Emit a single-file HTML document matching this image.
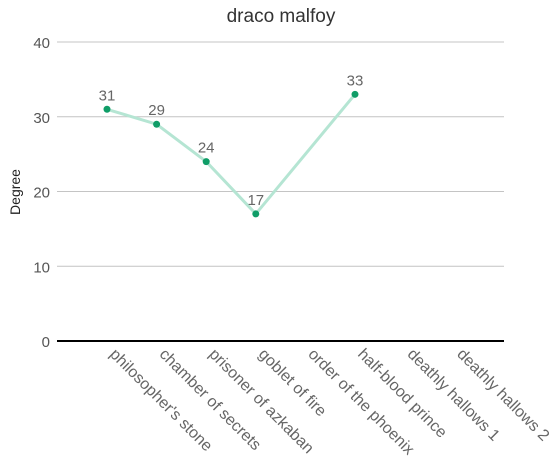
<!DOCTYPE html>
<html><head><meta charset="utf-8"><style>
body{margin:0;background:#fff;font-family:"Liberation Sans",sans-serif;}
svg text{font-family:"Liberation Sans",sans-serif;}
</style></head><body>
<svg id="c" width="559" height="468">
<text x="281" y="22" text-anchor="middle" font-size="19" fill="#333">draco malfoy</text>
<text x="20" y="192" text-anchor="middle" font-size="14" fill="#222" transform="rotate(-90 20 192)">Degree</text>
<g id="grid"></g><g id="xl"></g><g id="marks"></g>
</svg>
<script>
const categories=["philosopher's stone","chamber of secrets","prisoner of azkaban","goblet of fire","order of the phoenix","half-blood prince","deathly hallows 1","deathly hallows 2"];
const values=[31,29,24,17,null,33,null,null];
const yTicks=[0,10,20,30,40];
const ns="http://www.w3.org/2000/svg";
const y=v=>341-(v/40)*299;
const x=i=>107+i*49.6;
function mk(t,a,p){const e=document.createElementNS(ns,t);for(const k in a)e.setAttribute(k,a[k]);p.appendChild(e);return e;}
const g=document.getElementById('grid'),xl=document.getElementById('xl'),m=document.getElementById('marks');
yTicks.forEach(v=>{
 const l=mk('line',{x1:57,x2:504,y1:y(v),y2:y(v),stroke:v===0?'#000':'#c4c4c4','stroke-width':v===0?2:1},g);
 
 
 const t=mk('text',{x:50,y:y(v)+6,'text-anchor':'end','font-size':15,fill:'#555'},g);t.textContent=v;
 
 
});
categories.forEach((c,i)=>{
 const t=mk('text',{x:x(i)+2,y:355,'font-size':16,fill:'#666',transform:`rotate(45 ${x(i)+2} 355)`},xl);t.textContent=c;
 
 
});
const pts=values.map((v,i)=>v==null?null:[x(i),y(v),v]).filter(p=>p);
const path=mk('polyline',{points:pts.map(p=>p[0]+','+p[1]).join(' '),fill:'none',stroke:'#b5e5d3','stroke-width':3},m);


pts.forEach(p=>{
 const c=mk('circle',{cx:p[0],cy:p[1],r:3.5,fill:'#0f9d67'},m);
 
 
 const t=mk('text',{x:p[0],y:p[1]-9,'text-anchor':'middle','font-size':15,fill:'#666'},m);t.textContent=p[2];
 
 
});
</script>
</body></html>
